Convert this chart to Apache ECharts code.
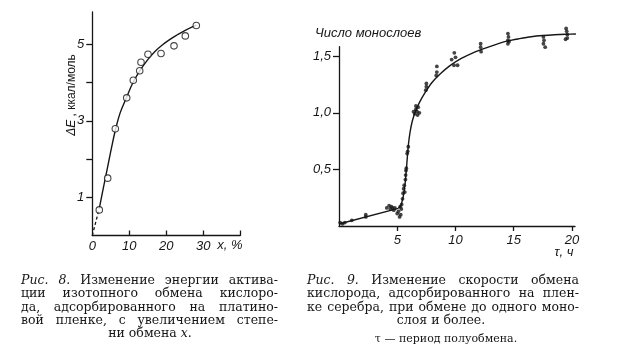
<!DOCTYPE html>
<html><head><meta charset="utf-8">
<script src="https://cdn.jsdelivr.net/npm/echarts@6/dist/echarts.min.js"></script>
<style>html,body{margin:0;padding:0;background:#fff}#c{width:617px;height:356px}</style>
</head><body><div id="c"></div><script>
// ---- Fig. 8 data ----
const fig8PointX = [1.89, 4.16, 6.22, 9.30, 11.08, 12.81, 13.16, 15.05, 18.57, 22.08, 25.14, 28.11];
const fig8PointY = [0.67, 1.50, 2.79, 3.60, 4.06, 4.31, 4.53, 4.74, 4.76, 4.96, 5.22, 5.49];
const fig8CurveX = [1.89, 3.0, 4.2, 5.2, 6.2, 7.5, 9.3, 11.0, 13.0, 15.0, 17.0, 19.0, 21.0, 23.0, 25.0, 28.1];
const fig8CurveY = [0.71, 1.25, 1.82, 2.30, 2.74, 3.20, 3.62, 4.00, 4.33, 4.60, 4.82, 4.99, 5.13, 5.25, 5.36, 5.50];
const fig8DashX = [0, 1.89];
const fig8DashY = [0, 0.71];
const fig8XTickVals = [10, 20, 30, 40];
const fig8XLabelVals = [0, 10, 20, 30];
const fig8YTickVals = [1, 2, 3, 4, 5];
const fig8YLabelVals = [1, 3, 5];

// ---- Fig. 9 data ----
const fig9LineX = [0, 5.09];
const fig9LineY = [0.018, 0.156];
const fig9CurveX = [5.09, 5.3, 5.45, 5.58, 5.68, 5.77, 5.86, 5.96, 6.1, 6.3, 6.55, 6.9, 7.4, 8.0, 8.7, 9.5, 10.5, 11.5, 12.5, 13.5, 14.5, 15.5, 16.5, 17.5, 18.5, 19.5, 20.34];
const fig9CurveY = [0.156, 0.18, 0.23, 0.30, 0.38, 0.48, 0.60, 0.72, 0.83, 0.93, 1.01, 1.09, 1.18, 1.27, 1.345, 1.415, 1.48, 1.53, 1.57, 1.605, 1.635, 1.655, 1.672, 1.683, 1.69, 1.694, 1.696];
const fig9DotTau = [0.1,0.3,0.5,1.1,2.3,2.3,4.1,4.3,4.4,4.5,4.6,4.7,4.8,5.0,5.1,5.2,5.25,5.35,5.3,
  5.38,5.45,5.5,5.55,5.6,5.65,5.7,5.72,5.75,5.78,5.85,5.9,5.95,
  6.4,6.5,6.6,6.7,6.8,6.9,6.75,6.6,7.45,7.5,7.5,8.35,8.4,8.4,
  9.67,9.87,9.9,10.18,10.0,12.16,12.16,12.2,14.5,14.55,14.5,14.6,14.5,
  17.55,17.6,17.55,17.7,19.5,19.55,19.6,19.6,19.45];
const fig9DotN = [0.03,0.02,0.03,0.05,0.10,0.08,0.16,0.18,0.15,0.17,0.16,0.14,0.16,0.11,0.13,0.08,0.17,0.15,0.10,
  0.19,0.24,0.29,0.33,0.36,0.30,0.41,0.45,0.49,0.51,0.64,0.66,0.70,
  1.01,0.99,1.03,1.01,1.05,1.00,0.98,1.06,1.20,1.23,1.26,1.33,1.36,1.41,
  1.47,1.42,1.53,1.42,1.49,1.61,1.58,1.54,1.70,1.67,1.64,1.63,1.61,
  1.67,1.64,1.61,1.58,1.745,1.72,1.69,1.66,1.65];
const fig9XTickVals = [5, 10, 15, 20];
const fig9YTickVals = [0.5, 1.0, 1.5];

const zip = (a, b) => a.map((v, i) => [v, b[i]]);
const INK = '#161616';
const SANS = '"Liberation Sans", "DejaVu Sans", sans-serif';
const SERIF = '"DejaVu Serif", "Liberation Serif", serif';

// ---- caption layout helpers ----
const mctx = document.createElement('canvas').getContext('2d');
function fontStr(size, italic, fam) { return (italic ? 'italic ' : '') + size + 'px ' + fam; }
function txt(str, x, y, font, align) {
  return { type: 'text', silent: true, style: { text: str, x: x, y: y, font: font, fill: INK, textAlign: align || 'left', textVerticalAlign: 'middle' } };
}
function justify(words, x0, x1, y, size) {
  const items = words.map(w => {
    const it = typeof w === 'string' ? { t: w, i: false } : { t: w[0], i: true };
    it.f = fontStr(size, it.i, SERIF);
    mctx.font = it.f;
    it.w = mctx.measureText(it.t).width;
    return it;
  });
  const total = items.reduce((s, it) => s + it.w, 0);
  const gap = Math.max(3, (x1 - x0 - total) / (items.length - 1));
  let x = x0;
  return items.map(it => { const e = txt(it.t, x, y, it.f); x += it.w + gap; return e; });
}

const capSize = 12.5;
const graphics = [].concat(
  justify([['Рис.'], ['8.'], 'Изменение', 'энергии', 'актива-'], 21, 278, 281, capSize),
  justify(['ции', 'изотопного', 'обмена', 'кислоро-'], 21, 278, 294, capSize),
  justify(['да,', 'адсорбированного', 'на', 'платино-'], 21, 278, 307.5, capSize),
  justify(['вой', 'пленке,', 'с', 'увеличением', 'степе-'], 21, 278, 320.5, capSize),
  [{ type: 'text', silent: true, style: { text: 'ни обмена {i|x}.', x: 150, y: 334, font: fontStr(capSize, false, SERIF), fill: INK, textAlign: 'center', textVerticalAlign: 'middle',
     rich: { i: { fontStyle: 'italic', fontSize: capSize, fontFamily: SERIF, fill: INK } } } }],
  justify([['Рис.'], ['9.'], 'Изменение', 'скорости', 'обмена'], 307, 579, 281, capSize),
  justify(['кислорода,', 'адсорбированного', 'на', 'плен-'], 307, 579, 294, capSize),
  justify(['ке', 'серебра,', 'при', 'обмене', 'до', 'одного', 'моно-'], 307, 579, 307.5, capSize),
  [txt('слоя и более.', 441, 320.5, fontStr(capSize, false, SERIF), 'center'),
   txt('τ — период полуобмена.', 446, 339, fontStr(11, false, SERIF), 'center'),
   // axis titles
   { type: 'text', silent: true, rotation: Math.PI / 2, x: 72, y: 95,
     style: { text: '{i|ΔE} , ккал/моль', x: 0, y: 0, font: fontStr(12, false, SANS), fill: INK, textAlign: 'center', textVerticalAlign: 'middle',
       rich: { i: { fontStyle: 'italic', fontSize: 12, fontFamily: SANS, fill: INK } } } },
   txt('x, %', 230, 245, fontStr(13, true, SANS), 'center'),
   txt('Число монослоев', 315, 33, fontStr(13, true, SANS), 'left'),
   txt('τ, ч', 564, 252, fontStr(13, true, SANS), 'center')]
);

const axisLabelBase = { fontFamily: SANS, fontStyle: 'italic', fontSize: 13, color: INK };
const lineStyleAxis = { color: INK, width: 1.3 };

const option = {
  animation: false,
  backgroundColor: '#ffffff',
  grid: [
    { left: 92.3, top: 12, width: 148, height: 223.5 },
    { left: 339, top: 46.7, width: 236, height: 179.3 }
  ],
  xAxis: [
    { gridIndex: 0, type: 'value', min: 0, max: 40, interval: 10, splitLine: { show: false },
      axisLine: { lineStyle: lineStyleAxis },
      axisTick: { inside: true, length: 5, lineStyle: lineStyleAxis, customValues: fig8XTickVals },
      axisLabel: Object.assign({}, axisLabelBase, { margin: 4, customValues: fig8XLabelVals }) },
    { gridIndex: 1, type: 'value', min: 0, max: 20.26, interval: 5, splitLine: { show: false },
      axisLine: { lineStyle: lineStyleAxis },
      axisTick: { inside: false, length: 5, lineStyle: lineStyleAxis, customValues: fig9XTickVals },
      axisLabel: Object.assign({}, axisLabelBase, { margin: 8, customValues: fig9XTickVals }) }
  ],
  yAxis: [
    { gridIndex: 0, type: 'value', min: 0, max: 5.845, interval: 1, splitLine: { show: false },
      axisLine: { lineStyle: lineStyleAxis },
      axisTick: { inside: false, length: 6, lineStyle: lineStyleAxis, customValues: fig8YTickVals },
      axisLabel: Object.assign({}, axisLabelBase, { margin: 8, customValues: fig8YLabelVals }) },
    { gridIndex: 1, type: 'value', min: 0, max: 1.584, interval: 0.5, splitLine: { show: false },
      axisLine: { lineStyle: lineStyleAxis },
      axisTick: { inside: false, length: 6, lineStyle: lineStyleAxis, customValues: fig9YTickVals },
      axisLabel: Object.assign({}, axisLabelBase, { margin: 8, customValues: fig9YTickVals,
        formatter: v => v.toFixed(1).replace('.', ',') }) }
  ],
  series: [
    { type: 'line', xAxisIndex: 0, yAxisIndex: 0, data: zip(fig8DashX, fig8DashY), showSymbol: false,
      lineStyle: { color: INK, width: 1.3, type: [3, 2.5] }, silent: true },
    { type: 'line', xAxisIndex: 0, yAxisIndex: 0, data: zip(fig8CurveX, fig8CurveY), showSymbol: false,
      smooth: 0.4, lineStyle: { color: INK, width: 1.4 }, silent: true },
    { type: 'scatter', xAxisIndex: 0, yAxisIndex: 0, data: zip(fig8PointX, fig8PointY), symbol: 'circle', symbolSize: 6.5,
      itemStyle: { color: '#ffffff', borderColor: INK, borderWidth: 1.1 }, z: 5 },
    { type: 'line', xAxisIndex: 1, yAxisIndex: 1, data: zip(fig9LineX, fig9LineY), showSymbol: false,
      lineStyle: { color: INK, width: 1.4 }, clip: false, silent: true },
    { type: 'line', xAxisIndex: 1, yAxisIndex: 1, data: zip(fig9CurveX, fig9CurveY), showSymbol: false,
      smooth: 0.3, lineStyle: { color: INK, width: 1.4 }, clip: false, silent: true },
    { type: 'scatter', xAxisIndex: 1, yAxisIndex: 1, data: zip(fig9DotTau, fig9DotN), symbol: 'circle', symbolSize: 3.8,
      itemStyle: { color: INK }, clip: false, z: 5 }
  ],
  graphic: graphics
};
const chart = echarts.init(document.getElementById('c'), null, { renderer: 'canvas' });
chart.setOption(option);
</script></body></html>
